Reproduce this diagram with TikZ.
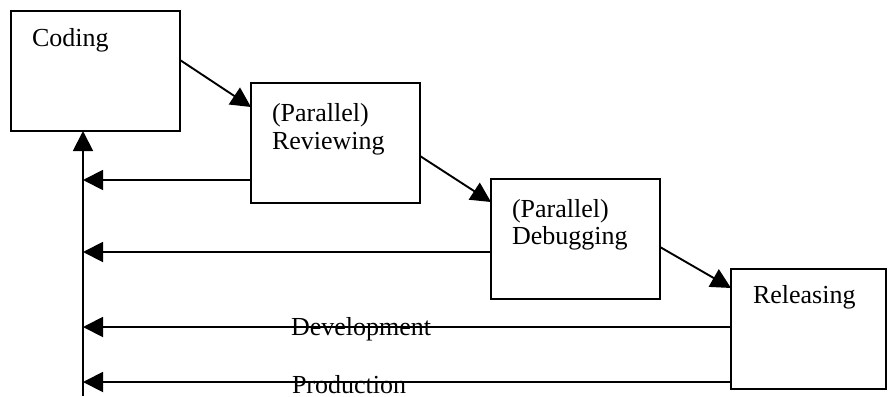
\documentclass[tikz,border=0pt]{standalone}
\usepackage{fontspec}
\setmainfont{Liberation Serif}
\usetikzlibrary{arrows.meta}
\begin{document}
\begin{tikzpicture}[x=1pt,y=-1pt,
  stage/.style={draw=black, line width=1.9pt, inner sep=0pt, outer sep=0pt,
    minimum height=120pt, anchor=north west},
  lbl/.style={inner sep=0pt, outer sep=0pt, anchor=base west,
    font=\fontsize{26pt}{28pt}\selectfont},
  flow/.style={line width=1.9pt, -{Triangle[length=20pt,width=20pt]}}]
\useasboundingbox (0,0) rectangle (888,396);

% stages
\node[stage, minimum width=169pt] (coding) at (11,11) {};
\node[stage, minimum width=169pt] (rev) at (251,83) {};
\node[stage, minimum width=169pt] (deb) at (491,179) {};
\node[stage, minimum width=155pt] (rel) at (731,269) {};

% stage names
\node[lbl] (codingT) at (32,47) {Coding};
\node[lbl] (revA) at (272,121) {(Parallel)};
\node[lbl] (revB) at (272,149) {Reviewing};
\node[lbl] (debA) at (512,217) {(Parallel)};
\node[lbl] (debB) at (512,244) {Debugging};
\node[lbl] (relT) at (753,303) {Releasing};

% forward flow
\draw[flow] ([yshift=-49pt]coding.north east) -- ([yshift=-24pt]rev.north west);
\draw[flow] ([yshift=-73pt]rev.north east) -- ([yshift=-23pt]deb.north west);
\draw[flow] ([yshift=-68pt]deb.north east) -- ([yshift=-19pt]rel.north west);

% feedback spine back to coding
\coordinate (spine) at (83,396);
\draw[flow] (spine) -- (spine |- coding.south);

% feedback from each later stage
\coordinate (fbRev) at ([yshift=-97pt]rev.north west);
\coordinate (fbDeb) at ([yshift=-73pt]deb.north west);
\coordinate (fbDev) at ([yshift=-58pt]rel.north west);
\coordinate (fbProd) at ([yshift=-113pt]rel.north west);
\draw[flow] (fbRev) -- (spine |- fbRev);
\draw[flow] (fbDeb) -- (spine |- fbDeb);
\draw[flow] (fbDev) -- (spine |- fbDev);
\draw[flow] (fbProd) -- (spine |- fbProd);

% line labels
\node[lbl] (devT) at (291,335) {Development};
\node[lbl, text depth=0pt] (prodT) at (292,393) {Production};
\end{tikzpicture}
\end{document}
